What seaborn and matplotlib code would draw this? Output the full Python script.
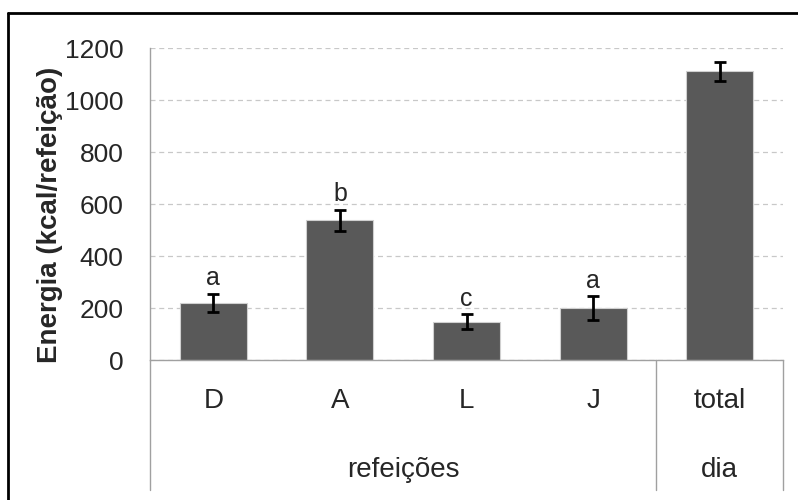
import matplotlib
matplotlib.use("Agg")
import matplotlib.pyplot as plt
import matplotlib.transforms as mtransforms
import seaborn as sns
import pandas as pd

# values
categorias = ["D", "A", "L", "J", "total"]
energia = [219, 538, 147, 200, 1110]
erro = [35, 40, 29, 45, 35]
letras = ["a", "b", "c", "a", ""]
grupos = ["refeições", "dia"]
grupos_x = [1.5, 4]
yticks = [0, 200, 400, 600, 800, 1000, 1200]

df = pd.DataFrame({"cat": categorias, "energia": energia})

sns.set_style("white")
plt.rcParams["font.family"] = ["Liberation Sans", "DejaVu Sans"]

fig = plt.figure(figsize=(7.98, 5.0), dpi=100)
ax = fig.add_axes([150 / 798, 1 - 360 / 500, 633 / 798, 312 / 500])

sns.barplot(data=df, x="cat", y="energia", color="#595959", saturation=1,
            width=0.53, edgecolor="#d0d0d0", linewidth=0.8, errorbar=None, ax=ax)
ax.errorbar(range(len(categorias)), energia, yerr=erro, fmt="none",
            ecolor="black", elinewidth=2, capsize=4.5, capthick=2, zorder=4)

for i, (v, e, l) in enumerate(zip(energia, erro, letras)):
    if l:
        ax.text(i, v + e + 14, l, ha="center", va="bottom", fontsize=18)

ax.set_xlim(-0.5, 4.5)
ax.set_ylim(0, 1200)
ax.set_yticks(yticks)
ax.set_yticklabels([str(t) for t in yticks], fontsize=19)
ax.yaxis.grid(True, linestyle=(0, (4, 3)), color="#c8c8c8", linewidth=0.9)
ax.set_axisbelow(True)
ax.tick_params(axis="y", length=0, pad=19)
ax.tick_params(axis="x", length=0, pad=20, labelsize=20)
ax.set_xlabel("")
ax.set_ylabel("Energia (kcal/refeição)", fontsize=20, fontweight="bold")
ax.yaxis.set_label_coords(-0.1374, 0.465)

for side in ["top", "right"]:
    ax.spines[side].set_visible(False)
for side in ["left", "bottom"]:
    ax.spines[side].set_color("#a0a0a0")
    ax.spines[side].set_linewidth(1)

# category table below the axis
trans = mtransforms.blended_transform_factory(ax.transData, ax.transAxes)
for xv in [-0.5, 3.5, 4.5]:
    ax.plot([xv, xv], [0, -130 / 312], transform=trans, color="#a0a0a0",
            linewidth=1, clip_on=False)
for g, gx in zip(grupos, grupos_x):
    ax.text(gx, -117 / 312, g, transform=trans, ha="center", va="baseline",
            fontsize=20)

# chart-area border (left and top edges)
fig.add_artist(plt.Line2D([8 / 798, 8 / 798], [0, 1 - 13 / 500], color="black",
                          linewidth=2, transform=fig.transFigure))
fig.add_artist(plt.Line2D([8 / 798, 1], [1 - 13 / 500, 1 - 13 / 500], color="black",
                          linewidth=2, transform=fig.transFigure))

fig.savefig("out.png", dpi=100)
